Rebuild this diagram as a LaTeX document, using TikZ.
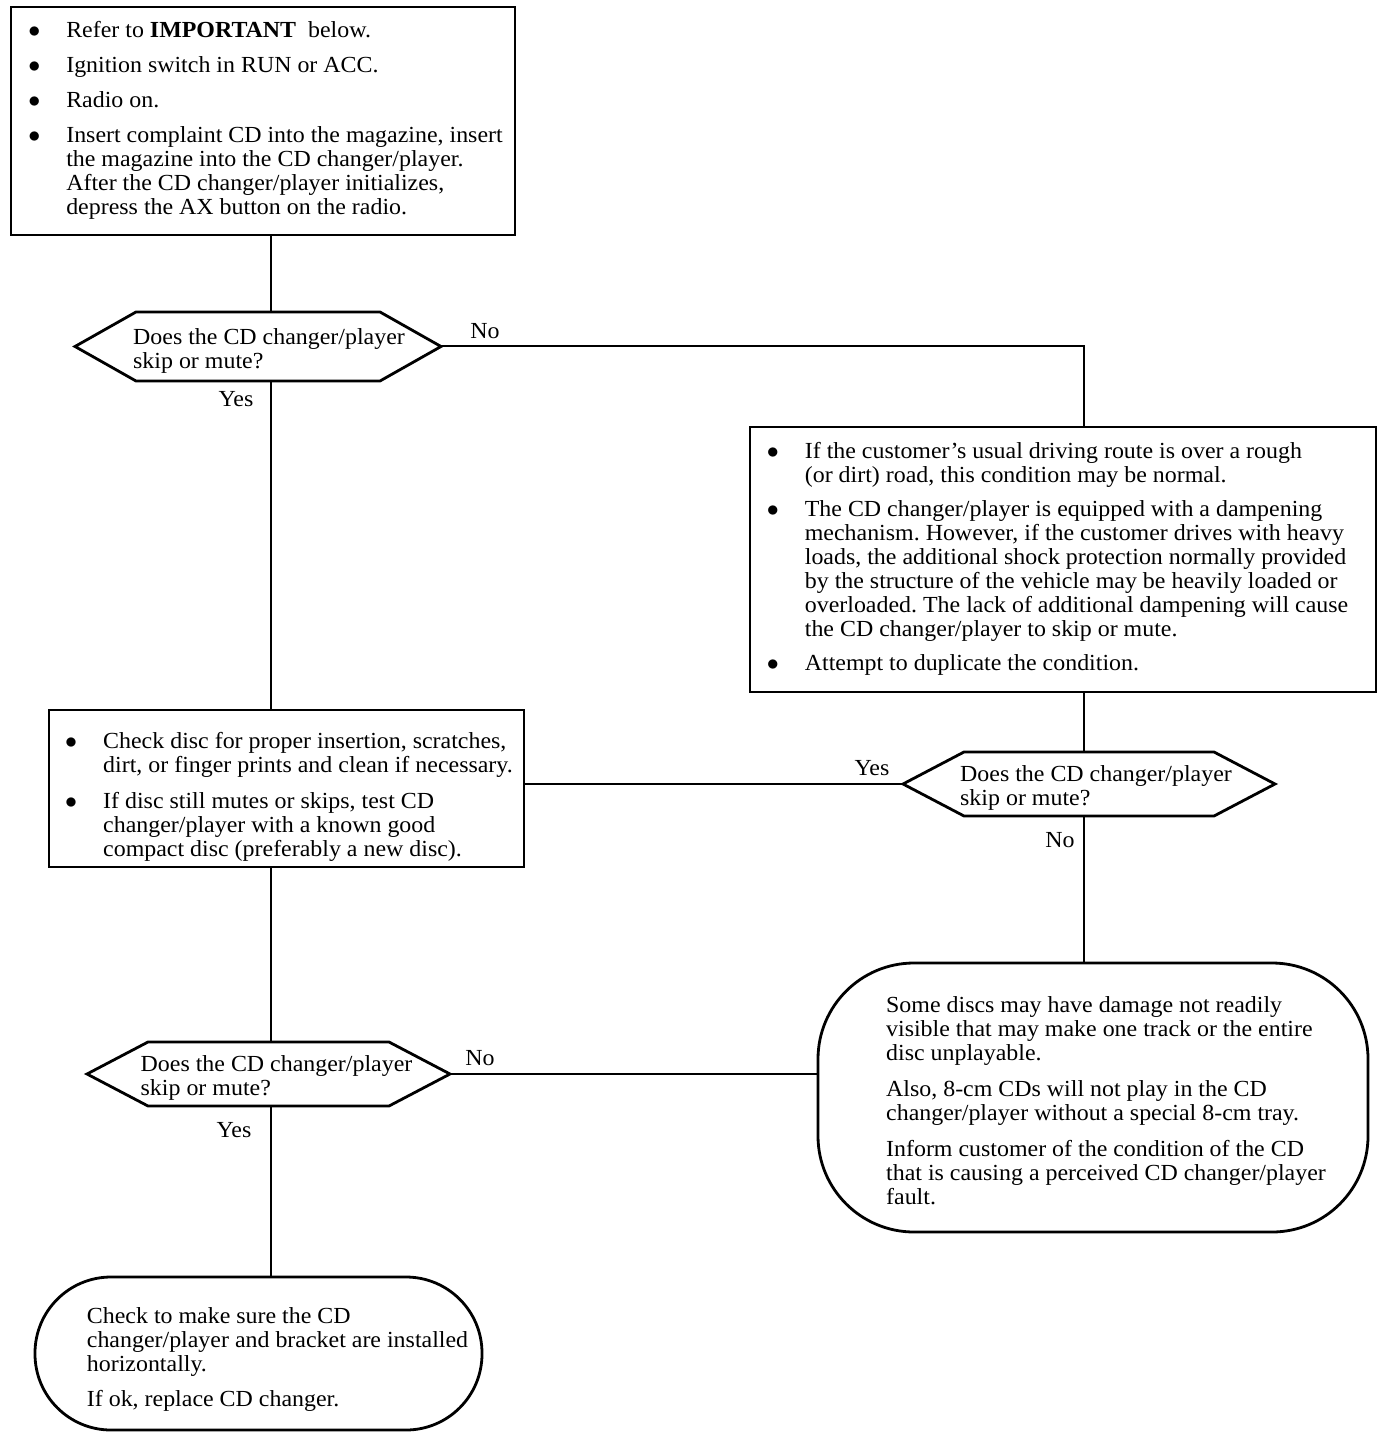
\documentclass[tikz,border=0pt]{standalone}
\usepackage{fontspec}
\setmainfont{Liberation Serif}[FakeStretch=1.04]
\frenchspacing

\newcommand{\bl}{\hspace{2.5pt}$\bullet$}
\newcommand{\skipq}[1]{\begin{tabular}{@{\hspace{#1}}l@{}}\noalign{\vskip 5pt}Does the CD changer/player\\skip or mute?\end{tabular}}
\newcommand{\hexline}[1]{\draw[line width=1.4pt] (#1.west) -- ([xshift=30.5pt]#1.north west) -- ([xshift=-30.5pt]#1.north east) -- (#1.east) -- ([xshift=-30.5pt]#1.south east) -- ([xshift=30.5pt]#1.south west) -- cycle;}

\begin{document}
\begin{tikzpicture}[x=0.5pt, y=-0.5pt, line width=1pt,
    every node/.style={font=\fontsize{11.5}{12}\selectfont, outer sep=0pt},
    box/.style={draw, line width=1.4pt, inner sep=0pt},
    ask/.style={inner sep=0pt},
    oval/.style={draw, line width=1.4pt, rounded corners=#1, inner sep=0pt}]
    \useasboundingbox (0,0) rectangle (1392,1438);
    \coordinate (lx) at (271,0);
    \coordinate (rx) at (1084,0);

    \node[box, minimum width=252pt, minimum height=114pt] (1) at (263,121) {\begin{tabular}{@{}p{21.5pt}@{}l@{}}
        \bl & Refer to \textbf{IMPORTANT}\ \ below.\\[5.5pt]
        \bl & Ignition switch in RUN or ACC.\\[5.5pt]
        \bl & Radio on.\\[5.5pt]
        \bl & Insert complaint CD into the magazine, insert\\
            & the magazine into the CD changer/player.\\
            & After the CD changer/player initializes,\\
            & depress the AX button on the radio.
    \end{tabular}};
    \node[ask, minimum width=183pt, minimum height=34.5pt] (2) at (258,346.5) {\skipq{11pt}};
    \node[box, minimum width=313pt, minimum height=132.5pt] (3) at (1063,559.5) {\begin{tabular}{@{}p{21.5pt}@{}l@{\hspace{8pt}}}
        \bl & If the customer’s usual driving route is over a rough\\
            & (or dirt) road, this condition may be normal.\\[5pt]
        \bl & The CD changer/player is equipped with a dampening\\
            & mechanism. However, if the customer drives with heavy\\
            & loads, the additional shock protection normally provided\\
            & by the structure of the vehicle may be heavily loaded or\\
            & overloaded. The lack of additional dampening will cause\\
            & the CD changer/player to skip or mute.\\[5pt]
        \bl & Attempt to duplicate the condition.
    \end{tabular}};
    \node[ask, minimum width=186pt, minimum height=32pt] (4) at (1089,784) {\skipq{7pt}};
    \node[box, minimum width=237.5pt, minimum height=78.5pt] (5) at (286.5,788.5) {\begin{tabular}{@{}p{21.5pt}@{}l@{}}\noalign{\vskip 9pt}
        \bl & Check disc for proper insertion, scratches,\\
            & dirt, or finger prints and clean if necessary.\\[6pt]
        \bl & If disc still mutes or skips, test CD\\
            & changer/player with a known good\\
            & compact disc (preferably a new disc).
    \end{tabular}};
    \node[oval=48pt, minimum width=275pt, minimum height=134.5pt] (6) at (1093,1097.5) {\begin{tabular}{@{\hspace{13pt}}l@{}}\noalign{\vskip 6pt}
        Some discs may have damage not readily\\
        visible that may make one track or the entire\\
        disc unplayable.\\[6pt]
        Also, 8-cm CDs will not play in the CD\\
        changer/player without a special 8-cm tray.\\[6pt]
        Inform customer of the condition of the CD\\
        that is causing a perceived CD changer/player\\
        fault.
    \end{tabular}};
    \node[ask, minimum width=181.5pt, minimum height=32pt] (7) at (268.5,1074) {\skipq{8pt}};
    \node[oval=38pt, minimum width=223.5pt, minimum height=76.5pt] (8) at (258.5,1353.5) {\begin{tabular}{@{\hspace{19pt}}l@{}}\noalign{\vskip 7pt}
        Check to make sure the CD\\
        changer/player and bracket are installed\\
        horizontally.\\[5.5pt]
        If ok, replace CD changer.
    \end{tabular}};

    \hexline{2}
    \hexline{4}
    \hexline{7}

    \node (n1) at (485,331) {No};
    \node (y1) at (236,399) {Yes};
    \node (y2) at (872,768) {Yes};
    \node (n2) at (1060,840) {No};
    \node (n3) at (480,1058) {No};
    \node (y3) at (234,1130) {Yes};

    \draw (1.south -| lx) to (2.north -| lx);
    \draw (2.south -| lx) to (5.north -| lx);
    \draw (5.south -| lx) to (7.north -| lx);
    \draw (7.south -| lx) to (8.north -| lx);
    \draw (2.east) -| (3.north -| rx);
    \draw (3.south -| rx) to (4.north -| rx);
    \draw (4.west) to (5.east |- 4.west);
    \draw (4.south -| rx) to (6.north -| rx);
    \draw (7.east) to (6.west |- 7.east);
\end{tikzpicture}
\end{document}
